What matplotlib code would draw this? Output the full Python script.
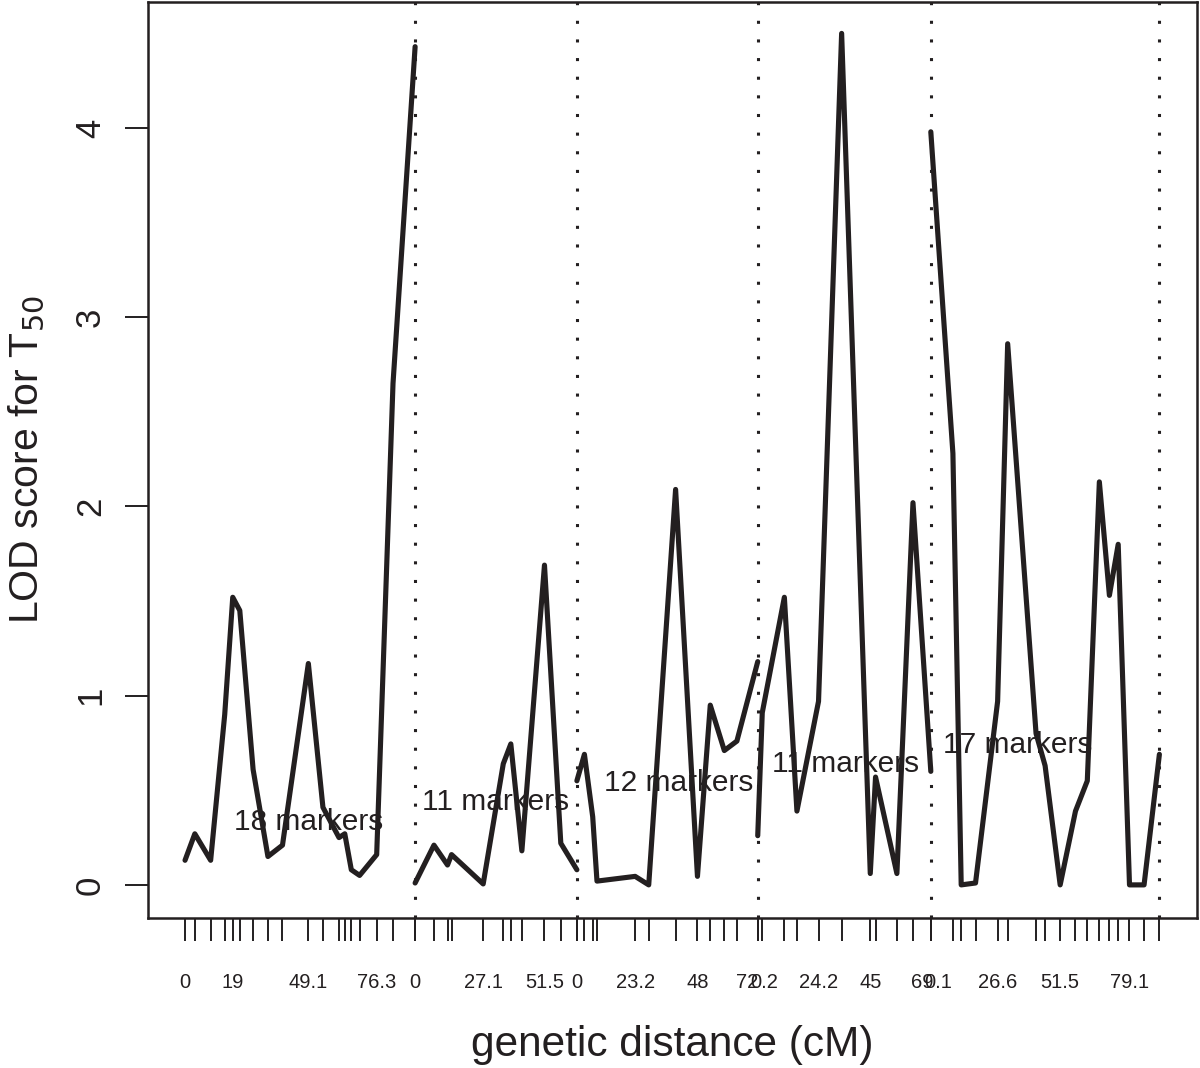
import matplotlib.pyplot as plt
import numpy as np
import matplotlib.transforms as mtrans

plt.rcParams['font.family'] = ['Liberation Sans', 'DejaVu Sans']

INK = "#231f20"

# marker positions (cM within each chromosome) and LOD score at each marker
pos1 = [0, 3.9, 10.2, 15.8, 19.0, 21.8, 27.1, 33.0, 38.8, 49.1, 54.9, 61.3, 63.6, 66.2, 69.5, 76.3, 82.8, 91.6]
lod1 = [0.13, 0.27, 0.13, 0.90, 1.52, 1.45, 0.61, 0.15, 0.21, 1.17, 0.41, 0.25, 0.27, 0.08, 0.05, 0.16, 2.65, 4.43]

pos2 = [0, 7.5, 12.9, 14.5, 27.1, 35.1, 38.1, 42.5, 51.5, 58.0, 64.4]
lod2 = [0.01, 0.21, 0.105, 0.16, 0.005, 0.64, 0.745, 0.18, 1.69, 0.22, 0.08]

pos3 = [0, 3.0, 6.3, 8.0, 23.2, 28.6, 39.3, 48.0, 53.1, 58.7, 63.7, 72.0]
lod3 = [0.55, 0.69, 0.36, 0.02, 0.045, 0.0, 2.09, 0.045, 0.95, 0.71, 0.76, 1.18]

pos4 = [0, 1.8, 10.6, 15.6, 24.2, 33.4, 44.8, 46.9, 55.4, 61.8, 68.9]
lod4 = [0.26, 0.91, 1.52, 0.39, 0.97, 4.50, 0.06, 0.57, 0.06, 2.02, 0.60]

pos5 = [0, 8.8, 12.1, 17.8, 26.6, 30.6, 41.9, 45.5, 51.5, 57.6, 62.3, 67.1, 71.1, 74.6, 79.1, 84.9, 91.0]
lod5 = [3.98, 2.28, 0.0, 0.01, 0.97, 2.86, 0.80, 0.63, 0.0, 0.39, 0.55, 2.13, 1.53, 1.80, 0.0, 0.0, 0.69]

# axis labels shown under the marker ticks
labpos1 = [0, 19, 49.1, 76.3]
labtxt1 = ["0", "19", "49.1", "76.3"]
labpos2 = [0, 27.1, 51.5]
labtxt2 = ["0", "27.1", "51.5"]
labpos3 = [0, 23.2, 48, 67.6]
labtxt3 = ["0", "23.2", "48", "72"]
labpos4 = [2.4, 24.2, 44.8, 65.3]
labtxt4 = ["0.2", "24.2", "45", "69"]
labpos5 = [3.1, 26.6, 51.5, 79.1]
labtxt5 = ["0.1", "26.6", "51.5", "79.1"]

# "n markers" notes: text, x (cM in chromosome, left edge), y (LOD)
notes = ["18 markers", "11 markers", "12 markers", "11 markers", "17 markers"]
note_x = [19.4, 2.9, 10.7, 5.5, 4.7]
note_y = [0.333, 0.44, 0.54, 0.64, 0.74]

positions = [pos1, pos2, pos3, pos4, pos5]
lods = [lod1, lod2, lod3, lod4, lod5]
labpos = [labpos1, labpos2, labpos3, labpos4, labpos5]
labtxt = [labtxt1, labtxt2, labtxt3, labtxt4, labtxt5]

lengths = [p[-1] for p in positions]
offsets = np.concatenate([[0], np.cumsum(lengths)[:-1]])
total = np.sum(lengths)

fig = plt.figure(figsize=(12, 10.68), dpi=100)
ax = fig.add_axes([148/1200, 1 - 918/1068, (1197-148)/1200, (918-2)/1068])

alltick = []
for i in range(5):
    x = offsets[i] + np.array(positions[i])
    ax.plot(x, lods[i], color=INK, lw=3.7, solid_joinstyle='round', solid_capstyle='round')
    alltick.extend(x)
    # chromosome boundary
    ax.axvline(offsets[i] + lengths[i], color=INK, lw=2.2, linestyle=(0, (1, 5.1)))
    ax.text(offsets[i] + note_x[i], note_y[i], notes[i], ha='left', va='center',
            fontsize=21.5, color=INK)
    trans = mtrans.blended_transform_factory(ax.transData, ax.transAxes)
    for p, t in zip(labpos[i], labtxt[i]):
        ax.text(offsets[i] + p, -0.0699, t, transform=trans, ha='center', va='center',
                fontsize=14.5, color=INK, clip_on=False)

ax.set_xlim(-0.038 * total, total * 1.0386)
ax.set_ylim(-0.175, 4.666)

ax.set_xticks(alltick)
ax.set_xticklabels([])
ax.set_yticks([0, 1, 2, 3, 4])
ax.tick_params(axis='x', direction='out', length=16.5, width=1.4, color=INK)
ax.tick_params(axis='y', direction='out', length=16.5, width=1.4, color=INK,
               labelsize=25, pad=13, labelcolor=INK)
plt.setp(ax.get_yticklabels(), rotation=90, va='center')

for s in ax.spines.values():
    s.set_linewidth(1.8)
    s.set_color(INK)

ax.set_xlabel("genetic distance (cM)", fontsize=30.5, color=INK)
ax.xaxis.set_label_coords(0.5, -0.1386)
ax.xaxis.label.set_va('center')
ax.set_ylabel("LOD score for T$_{50}$", fontsize=29.5, color=INK)
ax.yaxis.set_label_coords(-0.116, 0.5)
ax.yaxis.label.set_va('center')

plt.savefig("out.png", dpi=100)
